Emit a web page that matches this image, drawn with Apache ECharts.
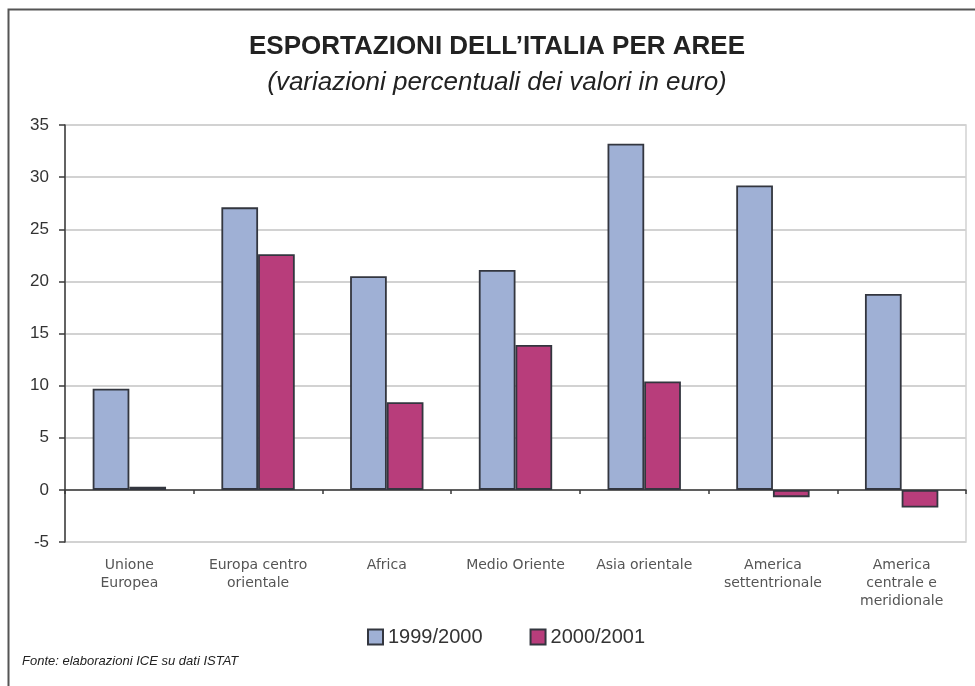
<!DOCTYPE html>
<html>
<head>
<meta charset="utf-8">
<script src="https://cdn.jsdelivr.net/npm/echarts@6/dist/echarts.min.js"></script>
<style>
html,body{margin:0;padding:0;background:#fff;}
#chart{width:975px;height:686px;}
</style>
</head>
<body>
<div id="chart"></div>
<script>
const categories = ['Unione\nEuropea', 'Europa centro\norientale', 'Africa', 'Medio Oriente', 'Asia orientale', 'America\nsettentrionale', 'America\ncentrale e\nmeridionale'];
const seriesNames = ['1999/2000', '2000/2001'];
const values1999 = [9.7, 27.1, 20.5, 21.1, 33.2, 29.2, 18.8];
const values2000 = [0.3, 22.6, 8.4, 13.9, 10.4, -0.7, -1.7];
const titleText = 'ESPORTAZIONI DELL\u2019ITALIA PER AREE';
const subtitleText = '(variazioni percentuali dei valori in euro)';
const sourceText = 'Fonte: elaborazioni ICE su dati ISTAT';

const chart = echarts.init(document.getElementById('chart'), null, {renderer: 'canvas'});
const font = 'Liberation Sans, Arial, Helvetica, sans-serif';

chart.setOption({
  backgroundColor: '#ffffff',
  animation: false,
  grid: {left: 65, right: 9, top: 125, bottom: 144, show: true, borderColor: '#d2d2d2', borderWidth: 1.5, backgroundColor: 'transparent'},
  legend: {
    data: seriesNames,
    left: 362, top: 622,
    icon: 'rect', itemWidth: 15, itemHeight: 15, itemGap: 47,
    textStyle: {fontFamily: font, fontSize: 20, color: '#333'}
  },
  xAxis: [
    {
      type: 'category', data: categories,
      axisLine: {show: true, onZero: true, lineStyle: {color: '#3a3a3a', width: 1.5}},
      axisTick: {show: true, length: 4, lineStyle: {color: '#3a3a3a', width: 1.5}},
      axisLabel: {show: false},
      splitLine: {show: false}
    },
    {
      type: 'category', data: categories, position: 'bottom',
      axisLine: {show: false, onZero: false},
      axisTick: {show: false},
      axisLabel: {show: true, interval: 0, margin: 14, fontFamily: 'DejaVu Sans, sans-serif', fontSize: 14, lineHeight: 18, color: '#555'},
      splitLine: {show: false}
    }
  ],
  yAxis: {
    type: 'value', min: -5, max: 35, interval: 5,
    axisLine: {show: true, lineStyle: {color: '#3a3a3a', width: 1.5}},
    axisTick: {show: true, length: 6, lineStyle: {color: '#3a3a3a', width: 1.5}},
    axisLabel: {margin: 16, fontFamily: font, fontSize: 17, color: '#333'},
    splitLine: {show: true, lineStyle: {color: '#d2d2d2', width: 2}}
  },
  series: [
    {
      name: seriesNames[0], type: 'bar', xAxisIndex: 0, data: values1999,
      barGap: '0%', barCategoryGap: '43%',
      itemStyle: {color: '#9fb0d5', borderColor: '#33363f', borderWidth: 1.8}
    },
    {
      name: seriesNames[1], type: 'bar', xAxisIndex: 0, data: values2000,
      barGap: '0%', barCategoryGap: '43%',
      itemStyle: {color: '#b83d7b', borderColor: '#33363f', borderWidth: 1.8}
    }
  ],
  graphic: [
    {type: 'rect', left: 6, top: 7, shape: {x: 0, y: 0, width: 1000, height: 720}, style: {fill: 'none', stroke: '#555', lineWidth: 2}, silent: true},
    {type: 'text', x: 497, y: 47, style: {text: titleText, align: 'center', verticalAlign: 'middle', fontFamily: font, fontSize: 26, fontWeight: 'bold', fill: '#222'}},
    {type: 'text', x: 497, y: 83, style: {text: subtitleText, align: 'center', verticalAlign: 'middle', fontFamily: font, fontSize: 26, fontStyle: 'italic', fill: '#222'}},
    {type: 'text', x: 22, y: 661, style: {text: sourceText, align: 'left', verticalAlign: 'middle', fontFamily: font, fontSize: 13, fontStyle: 'italic', fill: '#222'}}
  ]
});
</script>
</body>
</html>
